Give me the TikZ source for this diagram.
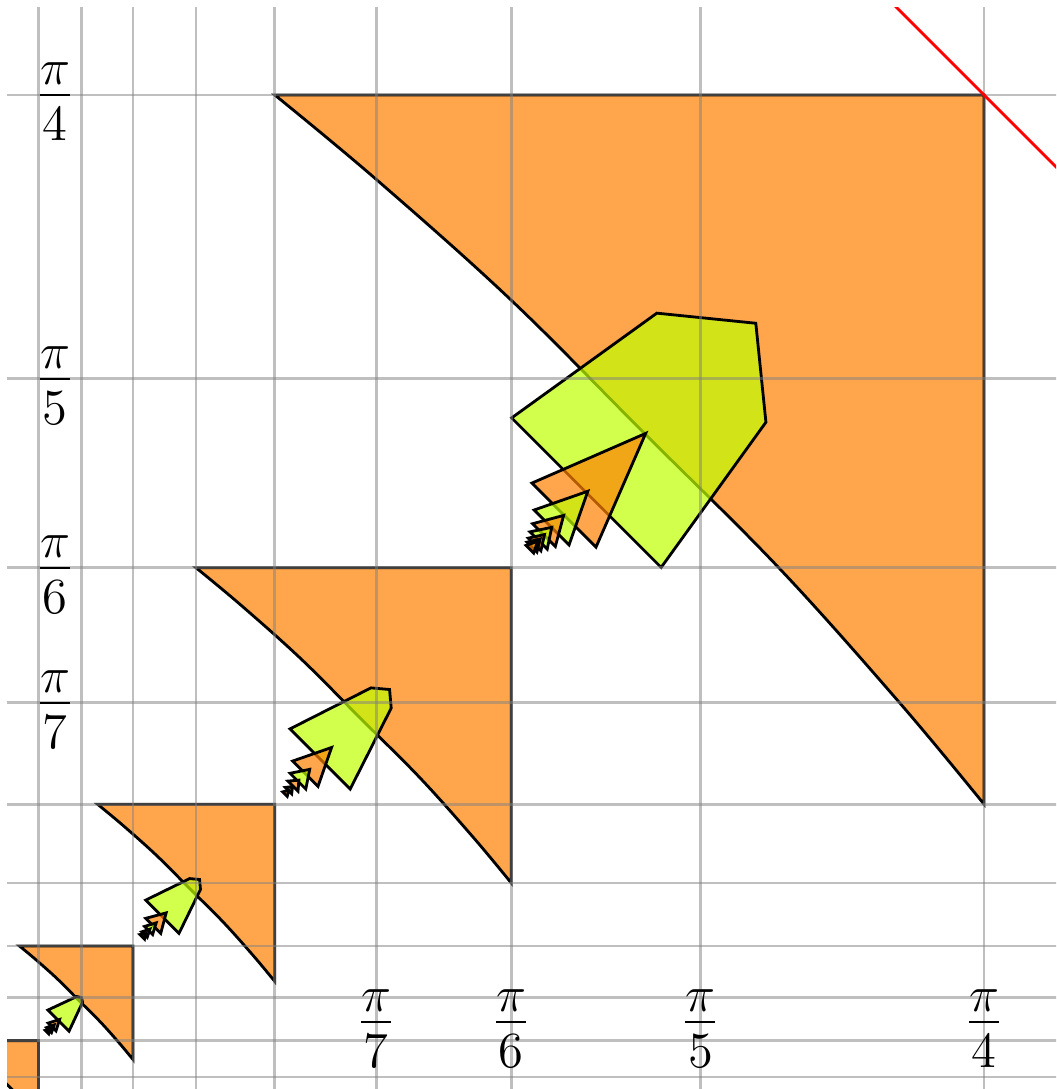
\documentclass[tikz,border=0pt]{standalone}
\usepackage{amsmath}
\usepackage{tikz}

% one tile with its tip on the diagonal: style, tip, p, q
\newcommand{\arrowtile}[4]{\draw[#1] (#3,#4) -- (#2,#2) -- (#4,#3) -- cycle;}
% five-sided tile: style, tip, p1, q1, p2, q2
\newcommand{\pentatile}[6]{\draw[#1] (#3,#4) -- (#5,#6) -- (#2,#2) -- (#6,#5) -- (#4,#3) -- cycle;}
% axis label pi/n
\newcommand{\pifrac}[1]{$\dfrac{\raisebox{-0.22em}{$\pi$}}{\raisebox{0.04em}{$#1$}}$}

\begin{document}
\begin{tikzpicture}[x=18.06cm, y=18.06cm,
    tileA/.style={draw=black, thick, fill=orange, fill opacity=0.7},
    tileB/.style={draw=black, thick, fill=lime, fill opacity=0.7},
    gridline/.style={gray, opacity=0.5, line width=0.8pt},
    lab/.style={font=\Large, anchor=base, yshift=-3.6pt}]

  \useasboundingbox (0.2405,0.2350) rectangle (0.8253,0.8380);

  \begin{scope}
    \clip (0.2444,0.2350) rectangle (0.8253,0.8336);

    % Corner triangles at (pi/2k, pi/2k)
    \foreach \k in {2,...,6} {
      \begin{scope}[shift={({pi*(\k-1)/(2*\k*\k)},{pi*(\k-1)/(2*\k*\k)})}, scale={pi/(2*\k*\k)}]
        \draw[tileA] (1,1) -- plot[smooth, tension=0.6] coordinates {(0,1) (0.143,0.881) (0.333,0.711) (0.522,0.522) (0.711,0.333) (0.881,0.143) (1,0)} -- cycle;
      \end{scope}
    }

    % Tiles near pi/4
    \pentatile{tileB}{0.659}{0.5238}{0.6066}{0.6042}{0.6646}
    \arrowtile{tileA}{0.598}{0.535}{0.5705}
    \arrowtile{tileB}{0.566}{0.5363}{0.5556}
    \arrowtile{tileA}{0.5526}{0.5354}{0.548}
    \arrowtile{tileB}{0.546}{0.534}{0.5435}
    \arrowtile{tileA}{0.542}{0.533}{0.540}
    \arrowtile{tileB}{0.5396}{0.5323}{0.5378}
    \arrowtile{tileA}{0.5383}{0.5318}{0.5360}

    % Tiles near pi/6
    \pentatile{tileB}{0.4562}{0.4011}{0.4344}{0.4459}{0.4571}
    \arrowtile{tileA}{0.4241}{0.4026}{0.4166}
    \arrowtile{tileB}{0.412}{0.4011}{0.4098}
    \arrowtile{tileA}{0.406}{0.400}{0.4055}
    \arrowtile{tileB}{0.4025}{0.3985}{0.402}
    \arrowtile{tileA}{0.4005}{0.397}{0.3995}

    % Tiles near pi/8
    \pentatile{tileB}{0.351}{0.3212}{0.3396}{0.3455}{0.3515}
    \arrowtile{tileA}{0.3325}{0.3212}{0.3295}
    \arrowtile{tileB}{0.327}{0.3205}{0.325}
    \arrowtile{tileA}{0.3235}{0.319}{0.322}
    \arrowtile{tileB}{0.321}{0.318}{0.3205}

    % Tiles near pi/10
    \pentatile{tileB}{0.2856}{0.267}{0.2787}{0.283}{0.2862}
    \arrowtile{tileA}{0.2735}{0.2672}{0.2715}
    \arrowtile{tileB}{0.2705}{0.2662}{0.269}
    \arrowtile{tileA}{0.2685}{0.2655}{0.2675}

    % Grid
    \foreach \n in {4,...,13} {
      \draw[gridline] ({pi/\n},0.2) -- ({pi/\n},0.9);
      \draw[gridline] (0.2,{pi/\n}) -- (0.9,{pi/\n});
    }

    % Right triangles
    \draw[red, thick] (0.7,{pi/2-0.7}) -- (0.9,{pi/2-0.9});
  \end{scope}

  % Labels
  \foreach \n in {4,...,7} {
    \node[lab] (yl\n) at (0.271,{pi/\n}) {\pifrac{\n}};
    \node[lab] (xl\n) at ({pi/\n},0.272) {\pifrac{\n}};
  }
\end{tikzpicture}
\end{document}
